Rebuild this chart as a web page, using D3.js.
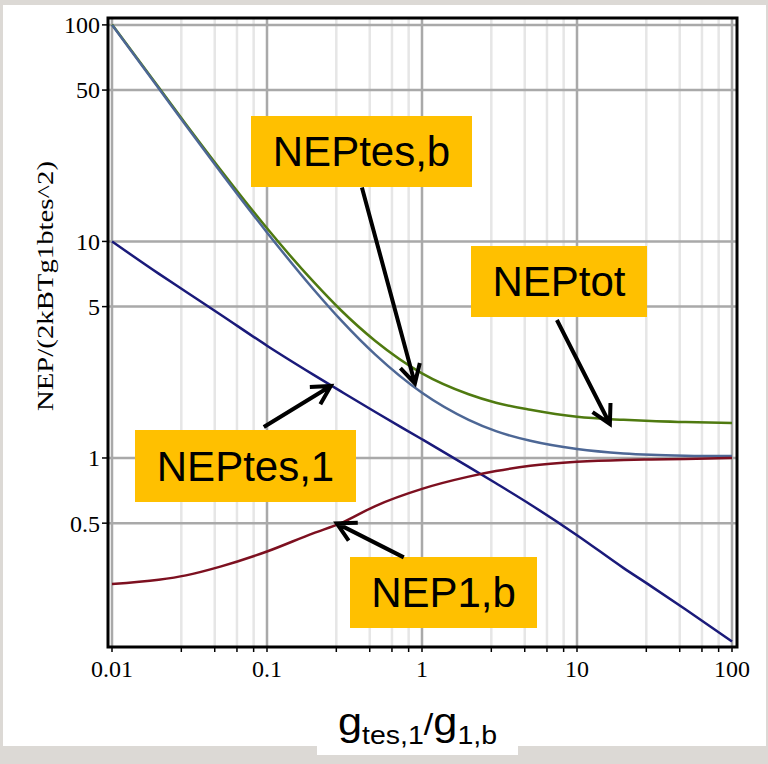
<!DOCTYPE html>
<html>
<head>
<meta charset="utf-8">
<script src="https://cdn.jsdelivr.net/npm/d3@7.9.0/dist/d3.min.js"></script>
<style>
  html, body { margin: 0; padding: 0; background: #dcd9d5; }
  svg { display: block; }
</style>
</head>
<body>
<svg id="chart" width="768" height="764"></svg>
<script>
// Ratio g_tes,1 / g_1,b sampled along the x axis
const ratios = [0.01, 0.02, 0.03, 0.05, 0.1, 0.2, 0.3, 0.5, 1, 2, 3, 5, 10, 20, 30, 50, 100];

// Curves
const nepTot  = [100.5, 51.5, 34.8, 21.5, 11.5, 6.5, 4.81, 3.47, 2.46, 1.97, 1.80, 1.67, 1.55, 1.50, 1.48, 1.465, 1.45];
const nepTesB = [100, 51, 34.3, 21, 11, 6, 4.33, 3, 2, 1.5, 1.33, 1.2, 1.1, 1.05, 1.035, 1.025, 1.02];
const nepTes1 = [10, 7.1, 5.86, 4.6, 3.3, 2.42, 2.03, 1.63, 1.22, 0.91, 0.764, 0.61, 0.44, 0.31, 0.256, 0.2, 0.142];
const nep1B   = [0.262, 0.274, 0.287, 0.315, 0.37, 0.45, 0.5, 0.6, 0.72, 0.82, 0.87, 0.92, 0.96, 0.98, 0.985, 0.99, 1.0];

// Tick labels
const xTicks = [0.01, 0.1, 1, 10, 100];
const yTicks = [0.5, 1, 5, 10, 50, 100];

// Annotations: name, arrow tip (data units), tail offset, box
const labels = [
  { text: "NEPtes,b", tip: [0.9, 2.21],   tail: [-53, -196], box: [251, 116, 221, 71] },
  { text: "NEPtot",   tip: [16.3, 1.435], tail: [-53, -104], box: [471, 246, 176, 71] },
  { text: "NEPtes,1", tip: [0.258, 2.15], tail: [-67, 41],   box: [135, 430, 221, 72] },
  { text: "NEP1,b",   tip: [0.282, 0.499], tail: [67, 34],   box: [350, 557, 187, 71] }
];

const svg = d3.select("#chart");
const frame = { left: 108, right: 737, top: 18, bottom: 647 };

const x = d3.scaleLog().domain([0.01, 100]).range([112, 732]);
const y = d3.scaleLog().domain([0.134, 107.6]).range([frame.bottom, frame.top]);

// white panel
svg.append("rect").attr("x", 3).attr("y", 5).attr("width", 763).attr("height", 741).attr("fill", "#fff");
svg.append("rect").attr("x", 317).attr("y", 700).attr("width", 201).attr("height", 55).attr("fill", "#fff");

svg.append("clipPath").attr("id", "clip")
  .append("rect")
  .attr("x", frame.left).attr("y", frame.top)
  .attr("width", frame.right - frame.left).attr("height", frame.bottom - frame.top);

// minor x positions: Maple style, 1 + 1.8k inside each decade
let minorX = [];
for (let d = 0.01; d < 100; d *= 10) {
  for (let k = 1; k <= 4; k++) minorX.push(d * (1 + 1.8 * k));
}

const grid = svg.append("g");
grid.selectAll(".minor").data(minorX).join("line")
  .attr("x1", d => x(d)).attr("x2", d => x(d))
  .attr("y1", frame.top).attr("y2", frame.bottom)
  .attr("stroke", "#e6e6e6").attr("stroke-width", 2.5);
grid.selectAll(".majx").data(xTicks).join("line")
  .attr("x1", d => x(d)).attr("x2", d => x(d))
  .attr("y1", frame.top).attr("y2", frame.bottom)
  .attr("stroke", "#a9a9a9").attr("stroke-width", 2.5);
grid.selectAll(".majy").data(yTicks).join("line")
  .attr("x1", frame.left).attr("x2", frame.right)
  .attr("y1", d => y(d)).attr("y2", d => y(d))
  .attr("stroke", "#a9a9a9").attr("stroke-width", 2.5);

// curves
const series = [
  { values: nepTot,  color: "#4f7a10" },
  { values: nepTesB, color: "#4d6795" },
  { values: nepTes1, color: "#1a1a7a" },
  { values: nep1B,   color: "#7d1020" }
];
const line = d3.line()
  .x((d, i) => x(ratios[i]))
  .y(d => y(d))
  .curve(d3.curveMonotoneX);

svg.append("g").attr("clip-path", "url(#clip)")
  .selectAll("path").data(series).join("path")
  .attr("d", d => line(d.values))
  .attr("fill", "none")
  .attr("stroke", d => d.color)
  .attr("stroke-width", 2.5);

// frame
svg.append("rect")
  .attr("x", frame.left).attr("y", frame.top)
  .attr("width", frame.right - frame.left).attr("height", frame.bottom - frame.top)
  .attr("fill", "none").attr("stroke", "#000").attr("stroke-width", 3);

// ticks
svg.append("g").selectAll("line").data(xTicks.concat(minorX)).join("line")
  .attr("x1", d => x(d)).attr("x2", d => x(d))
  .attr("y1", frame.bottom).attr("y2", frame.bottom + 5)
  .attr("stroke", "#000").attr("stroke-width", 1.5);
svg.append("g").selectAll("line").data(yTicks).join("line")
  .attr("x1", frame.left - 6).attr("x2", frame.left)
  .attr("y1", d => y(d)).attr("y2", d => y(d))
  .attr("stroke", "#000").attr("stroke-width", 1.5);

const serif = "'Liberation Serif', 'Times New Roman', serif";
const sans = "'Liberation Sans', Arial, sans-serif";

svg.append("g").selectAll("text").data(xTicks).join("text")
  .attr("x", d => x(d)).attr("y", 677)
  .attr("text-anchor", "middle")
  .attr("font-family", serif).attr("font-size", 24)
  .text(d => d);
svg.append("g").selectAll("text").data(yTicks).join("text")
  .attr("x", 100).attr("y", d => y(d))
  .attr("dy", "0.35em")
  .attr("text-anchor", "end")
  .attr("font-family", serif).attr("font-size", 24)
  .text(d => d);

// y axis title
svg.append("text")
  .attr("transform", "translate(53,286) rotate(-90)")
  .attr("text-anchor", "middle")
  .attr("font-family", serif).attr("font-size", 23)
  .attr("textLength", 250).attr("lengthAdjust", "spacingAndGlyphs")
  .text("NEP/(2kBTg1btes^2)");

// x axis title: g_tes,1 / g_1,b as one text with subscripts
const xt = svg.append("text")
  .attr("transform", "translate(417.5,735) scale(1.14,1)")
  .attr("text-anchor", "middle")
  .attr("font-family", sans).attr("font-size", 38);
xt.append("tspan").text("g");
xt.append("tspan").attr("font-size", 25).attr("dy", 9).text("tes,1");
xt.append("tspan").attr("font-size", 30).attr("dy", -9).text("/");
xt.append("tspan").text("g");
xt.append("tspan").attr("font-size", 25).attr("dy", 9).text("1,b");

// annotation boxes and arrows
const ann = svg.append("g");
labels.forEach(l => {
  ann.append("rect")
    .attr("x", l.box[0]).attr("y", l.box[1])
    .attr("width", l.box[2]).attr("height", l.box[3])
    .attr("fill", "#ffc000");
  ann.append("text")
    .attr("x", l.box[0] + l.box[2] / 2).attr("y", l.box[1] + l.box[3] / 2)
    .attr("dy", "0.35em")
    .attr("text-anchor", "middle")
    .attr("font-family", sans).attr("font-size", 42)
    .text(l.text);

  const tx = x(l.tip[0]), ty = y(l.tip[1]);
  const sx = tx + l.tail[0], sy = ty + l.tail[1];
  const ang = Math.atan2(ty - sy, tx - sx);
  const arm = 21, spread = 0.5;
  const a1 = [tx - arm * Math.cos(ang - spread), ty - arm * Math.sin(ang - spread)];
  const a2 = [tx - arm * Math.cos(ang + spread), ty - arm * Math.sin(ang + spread)];
  ann.append("path")
    .attr("d", `M${sx},${sy}L${tx},${ty}M${a1[0]},${a1[1]}L${tx},${ty}L${a2[0]},${a2[1]}`)
    .attr("fill", "none").attr("stroke", "#000")
    .attr("stroke-width", 4).attr("stroke-linejoin", "miter");
});
</script>
</body>
</html>
